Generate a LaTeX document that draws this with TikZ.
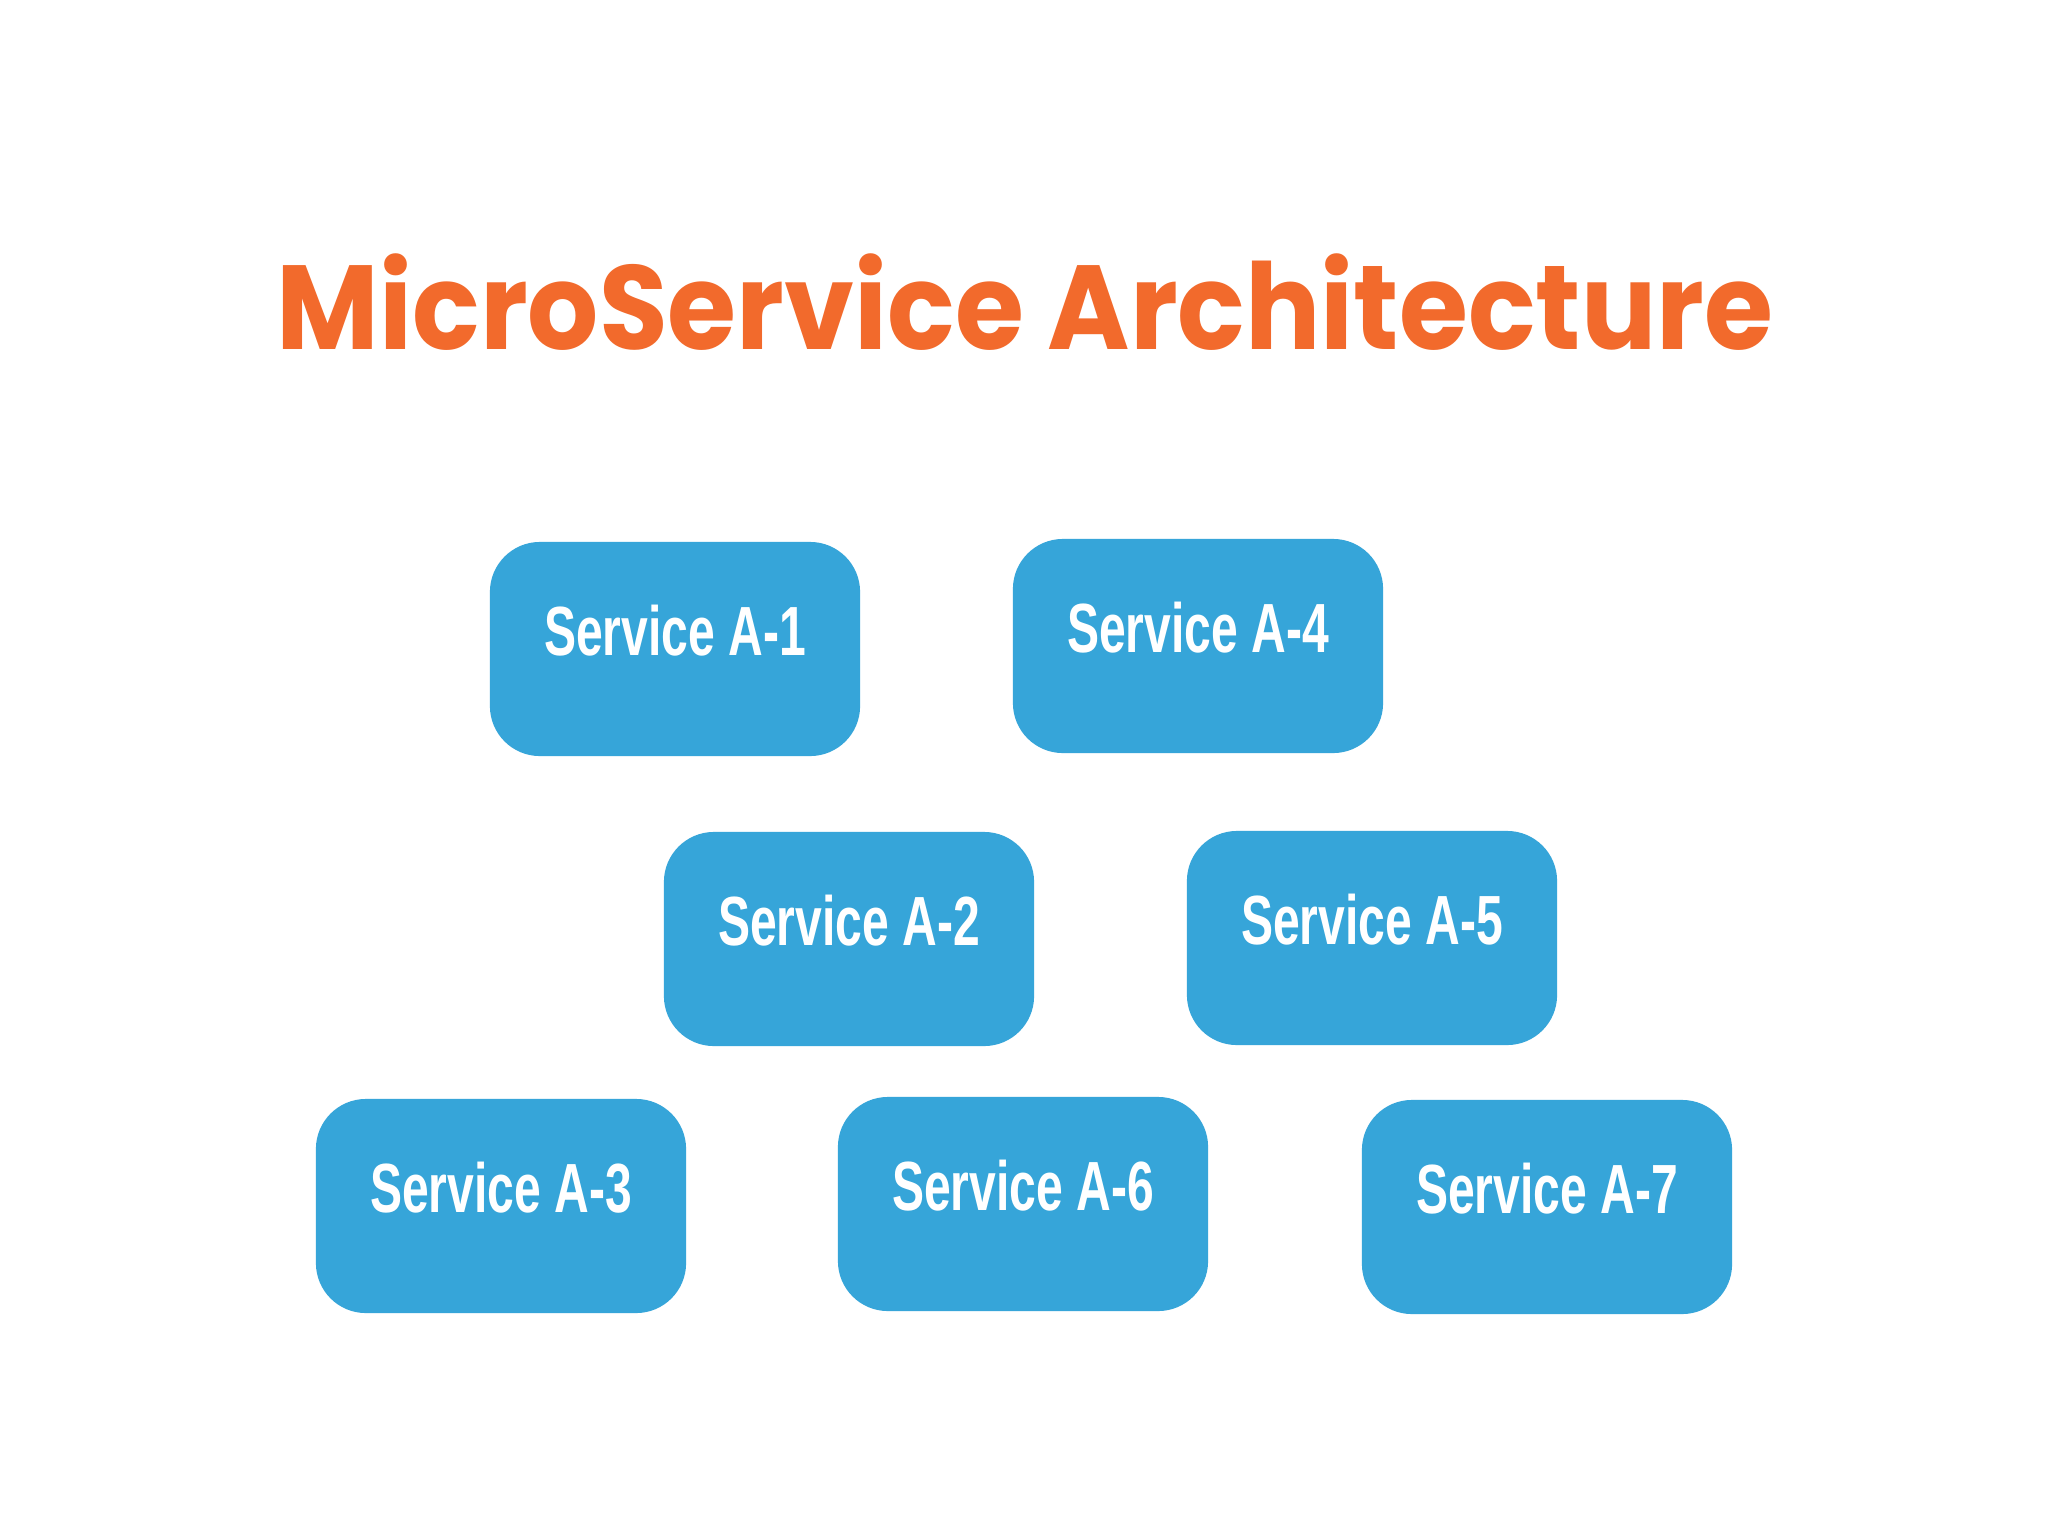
\documentclass[tikz,border=0pt]{standalone}
\usepackage{fontspec}
\usepackage{tikz}
\newfontfamily\titlefont[FakeStretch=0.935]{Poppins}
\newfontfamily\servicefont[FakeStretch=0.69]{Liberation Sans}
\definecolor{titleorange}{RGB}{242,106,44}
\definecolor{serviceblue}{RGB}{54,165,217}

\begin{document}
\begin{tikzpicture}[x=0.01cm,y=-0.01cm]
    \tikzstyle{service}=[rectangle,rounded corners=0.5cm,fill=serviceblue,text=white,
        minimum width=3.7cm,minimum height=2.14cm,text height=0.5cm,text depth=0.37cm,
        font=\servicefont\bfseries\fontsize{19.8pt}{22pt}\selectfont]
    \fill[white] (0,0) rectangle (2048,1536);
    \useasboundingbox (0,0) rectangle (2048,1536);
    \node (title)[anchor=base,text=titleorange,font=\titlefont\bfseries\fontsize{34pt}{40pt}\selectfont] at (1025,349) {MicroService Architecture};
    % first column
    \node (a1)[service] at (675,649) {Service A-1};
    \node (a2)[service] at (849,939) {Service A-2};
    \node (a3)[service] at (501,1206) {Service A-3};
    % second column
    \node (a4)[service] at (1198,646) {Service A-4};
    \node (a5)[service] at (1372,938) {Service A-5};
    \node (a6)[service] at (1023,1204) {Service A-6};
    % third column
    \node (a7)[service] at (1547,1207) {Service A-7};
\end{tikzpicture}
\end{document}
